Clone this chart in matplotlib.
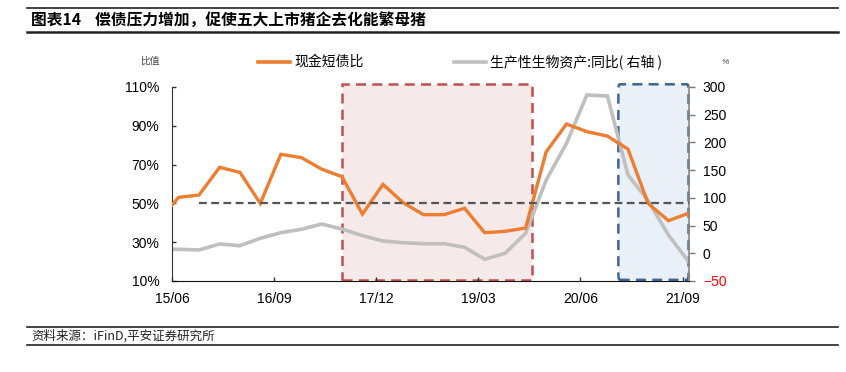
import matplotlib
matplotlib.use("Agg")
import matplotlib.pyplot as plt
import matplotlib.dates as mdates
import pandas as pd
from matplotlib.patches import FancyBboxPatch, Rectangle
from matplotlib.lines import Line2D

CJK = ["Noto Sans CJK SC", "DejaVu Sans"]
NUM = ["Liberation Sans", "DejaVu Sans"]

# ── data (quarterly) ──────────────────────────────────────────────────────────
dates = pd.to_datetime([
    "2015-03-31", "2015-06-30", "2015-09-30", "2015-12-31",
    "2016-03-31", "2016-06-30", "2016-09-30", "2016-12-31",
    "2017-03-31", "2017-06-30", "2017-09-30", "2017-12-31",
    "2018-03-31", "2018-06-30", "2018-09-30", "2018-12-31",
    "2019-03-31", "2019-06-30", "2019-09-30", "2019-12-31",
    "2020-03-31", "2020-06-30", "2020-09-30", "2020-12-31",
    "2021-03-31", "2021-06-30", "2021-09-30",
])
cash_ratio = [40.5, 53.1, 54.3, 68.6, 66.0, 50.0, 75.3, 73.6, 67.7, 63.8,
              44.5, 59.8, 50.4, 44.2, 44.2, 47.5, 34.9, 35.6, 37.3, 76.6,
              90.9, 87.0, 84.7, 78.0, 50.0, 41.1, 45.0]          # %
bio_assets_yoy = [7.0, 7.2, 6.0, 16.8, 13.7, 27.0, 37.2, 43.3, 52.8, 43.8,
                  31.8, 22.2, 19.1, 17.3, 17.3, 10.8, -10.8, 0.0, 36.0, 132.0,
                  198.4, 285.6, 283.8, 141.2, 95.0, 33.0, -16.0]  # %, right axis
ref_level = 50.0
ref_span = ("2015-09-30", "2021-09-30")
red_box = ("2017-06-30", "2019-10-28")
blue_box = ("2020-11-18", "2021-09-28")
box_y = (10.6, 111.4)

left_ticks = [10, 30, 50, 70, 90, 110]
right_ticks = [-50, 0, 50, 100, 150, 200, 250, 300]
x_ticks = ["2015-06-01", "2016-09-01", "2017-12-01", "2019-03-01", "2020-06-01", "2021-09-01"]

ORANGE = "#ED7D31"
GRAY = "#BFBFBF"

fig = plt.figure(figsize=(8.46, 3.72), dpi=100)
W, H = 846, 372

ax = fig.add_axes([172 / W, 1 - 281 / H, 517 / W, 194 / H])
ax2 = ax.twinx()
ax.set_zorder(ax2.get_zorder() + 1)
ax.patch.set_visible(False)

ax.set_xlim(pd.Timestamp("2015-06-01"), pd.Timestamp("2021-09-30"))
ax.set_ylim(10, 110)
ax2.set_ylim(-50, 300)

# highlight boxes (drawn in the lower axes so both lines sit on top)
x0, x1 = mdates.date2num(pd.to_datetime(red_box))
ax2.add_patch(Rectangle((x0, box_y[0]), x1 - x0, box_y[1] - box_y[0],
                        transform=ax.transData,
                        facecolor="#F6E9E9", edgecolor="#C0504D", linestyle=(0, (4, 2.5)),
                        linewidth=1.8, clip_on=False, zorder=0))
x0, x1 = mdates.date2num(pd.to_datetime(blue_box))
ax2.add_patch(FancyBboxPatch((x0, box_y[0]), x1 - x0, box_y[1] - box_y[0],
                             boxstyle="round,pad=0,rounding_size=6",
                             mutation_aspect=0.5, transform=ax.transData,
                             facecolor="#EAF0F8", edgecolor="#3F6592", linestyle=(0, (4, 2.5)),
                             linewidth=1.8, clip_on=False, zorder=0))

ax2.plot(dates, bio_assets_yoy, color=GRAY, linewidth=2.6, solid_joinstyle="miter", zorder=2)
ax.plot(dates, cash_ratio, color=ORANGE, linewidth=2.4, solid_joinstyle="miter", zorder=3)
ax.hlines(ref_level, *pd.to_datetime(ref_span), colors="#555555",
          linestyles=(0, (3.5, 2)), linewidth=1.6, zorder=4)

ax.set_xticks(pd.to_datetime(x_ticks))
ax.xaxis.set_major_formatter(mdates.DateFormatter("%y/%m"))
ax.set_yticks(left_ticks)
ax.set_yticklabels([f"{v}%" for v in left_ticks])
ax2.set_yticks(right_ticks)

ax.tick_params(axis="y", direction="in", length=3, width=1, color="#333333",
               labelsize=10, pad=9)
ax.tick_params(axis="x", direction="in", length=3, width=1, color="#333333",
               labelsize=10, pad=8)
ax2.tick_params(axis="y", direction="out", length=4, width=1, color="#777777",
                labelsize=10, pad=6)
for lab in ax.get_xticklabels() + ax.get_yticklabels() + ax2.get_yticklabels():
    lab.set_family(NUM)
ax2.get_yticklabels()[0].set_color("red")

for a in (ax, ax2):
    a.spines["top"].set_visible(False)
ax.spines["right"].set_visible(False)
ax.spines["left"].set_color("#333333")
ax.spines["bottom"].set_color("#111111")
ax2.spines["left"].set_visible(False)
ax2.spines["bottom"].set_visible(False)
ax2.spines["right"].set_color("#888888")
ax2.spines["right"].set_linewidth(1.2)

# legend / axis labels
fig.text(150 / W, 1 - 61 / H, "比值", family=CJK, fontsize=7, color="#444444",
         ha="center", va="center")
fig.text(725 / W, 1 - 63 / H, "%", family=NUM, fontsize=6, style="italic",
         color="#444444", ha="center", va="center")
fig.add_artist(Line2D([258 / W, 290 / W], [1 - 62 / H] * 2, color=ORANGE, linewidth=2.6))
fig.text(294 / W, 1 - 62 / H, "现金短债比", family=CJK, fontsize=10, va="center")
fig.add_artist(Line2D([454 / W, 486 / W], [1 - 62 / H] * 2, color=GRAY, linewidth=2.6))
fig.text(490 / W, 1 - 62 / H, "生产性生物资产:同比( 右轴 )", family=CJK, fontsize=10, va="center")

# title and footer rules
for y, lw in [(8.3, 1.2), (31.7, 1.8), (326.7, 1.2), (345, 1.2)]:
    fig.add_artist(Line2D([27 / W, 838 / W], [1 - y / H] * 2, color="#222222", linewidth=lw))
fig.text(31 / W, 1 - 20 / H, "图表14    偿债压力增加，促使五大上市猪企去化能繁母猪",
         family=CJK, fontsize=11.3, fontweight="bold", va="center")
fig.text(31 / W, 1 - 336 / H, "资料来源：iFinD,平安证券研究所", family=CJK,
         fontsize=9, style="italic", va="center", color="#222222")

fig.savefig("out.png", dpi=100)
